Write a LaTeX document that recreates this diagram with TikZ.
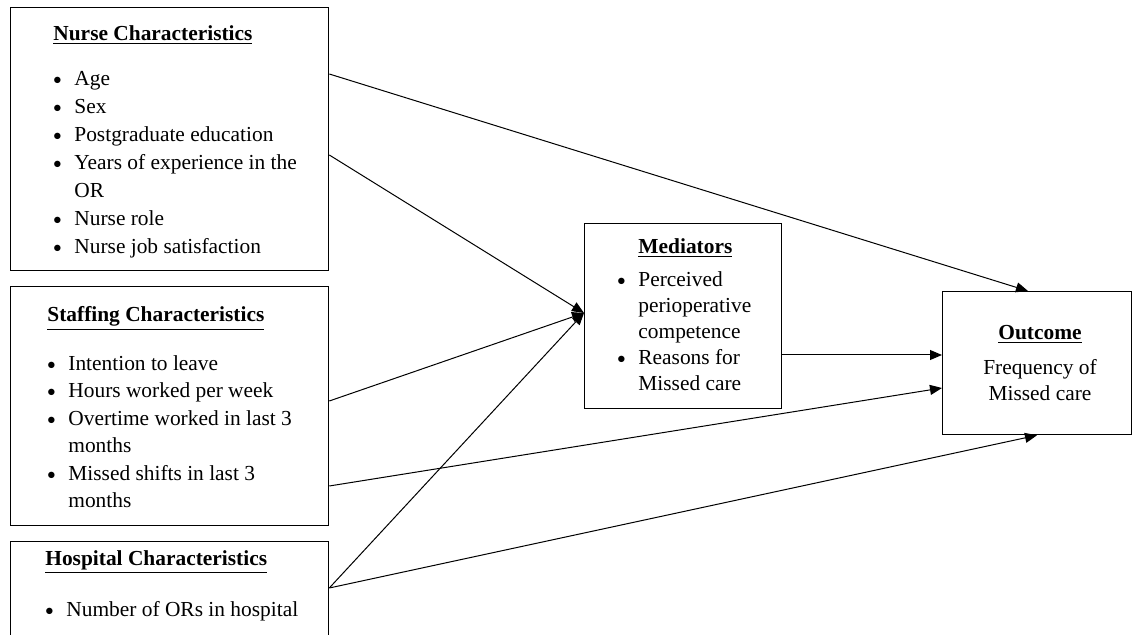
\documentclass[tikz,border=0pt]{standalone}
\usepackage{fontspec}
\setmainfont{Liberation Serif}
\usetikzlibrary{positioning, arrows.meta, calc}

\newcommand{\heading}[1]{\textbf{\underline{#1}}}
\newcommand{\bul}[1]{\noindent\hangindent=10.5pt\hangafter=1\makebox[10.5pt][l]{\raisebox{0.6pt}{\scalebox{0.75}{$\bullet$}}}#1\par}

\begin{document}
\begin{tikzpicture}[
    x=0.5pt, y=-0.5pt,
    box/.style={rectangle, draw, line width=0.65pt, anchor=north west, inner sep=0pt},
    list/.style={anchor=north west, inner sep=0pt, align=flush left, text width=#1},
    line/.style={draw, line width=0.5pt, -{Triangle[length=6pt, width=5pt]}},
    font=\fontsize{10.7}{13.75}\selectfont
]

    \useasboundingbox (0,0) rectangle (1132,635);

    % Boxes
    \node [box, minimum width=159pt, minimum height=131.5pt] (nurse) at (10,7) {};
    \node [box, minimum width=159pt, minimum height=119.5pt] (staff) at (10,286) {};
    \node [box, minimum width=159pt, minimum height=59.5pt] (hosp) at (10,541) {};
    \node [box, minimum width=98.5pt, minimum height=92.5pt] (med) at (584,223) {};
    \node [box, minimum width=94.5pt, minimum height=71.5pt] (outc) at (942,291) {};

    % Texts
    \node [list=140pt, font=\fontsize{10.7}{14}\selectfont] (nursetxt) at (53,25) {\heading{Nurse Characteristics}\par\vspace{8.5pt}
        \bul{Age}\bul{Sex}\bul{Postgraduate education}\bul{Years of experience in the\newline OR}
        \bul{Nurse role}\bul{Nurse job satisfaction}};
    \node [list=140pt] (stafftxt) at (47,306) {\heading{Staffing Characteristics}\par\vspace{10.75pt}
        \bul{Intention to leave}\bul{Hours worked per week}\bul{Overtime worked in last 3\newline months}
        \bul{Missed shifts in last 3\newline months}};
    \node [list=140pt] (hosptxt) at (45,550) {\heading{Hospital Characteristics}\par\vspace{11.75pt}
        \bul{Number of ORs in hospital}};
    \node [list=68pt, font=\fontsize{10.7}{13}\selectfont] (medtxt) at (617,238) {\centerline{\heading{Mediators}}\par\vspace{3.5pt}
        \bul{Perceived\newline perioperative\newline competence}\bul{Reasons for\newline Missed care}};
    \node [anchor=north, inner sep=0pt, align=center, font=\fontsize{10.7}{13}\selectfont] (outctxt) at (1040,325) {\heading{Outcome}\\[4.5pt]
        Frequency of\\Missed care};

    % Ends of the paths
    \coordinate (n1) at ($(nurse.north east)+(0,67)$);
    \coordinate (n2) at ($(nurse.north east)+(0,148)$);
    \coordinate (s1) at ($(staff.north east)+(0,115)$);
    \coordinate (s2) at ($(staff.north east)+(0,200)$);
    \coordinate (h1) at ($(hosp.north east)+(0,47)$);
    \coordinate (medin) at ($(med.north west)+(0,90)$);
    \coordinate (medout) at ($(med.north east)+(0,132)$);
    \coordinate (otop) at ($(outc.north west)+(86,0)$);
    \coordinate (oleft1) at ($(outc.north west)+(0,64)$);
    \coordinate (oleft2) at ($(outc.north west)+(0,97)$);
    \coordinate (obot) at ($(outc.south west)+(95,0)$);

    % Paths to the mediators
    \draw [line] (n2) -- (medin);
    \draw [line] (s1) -- (medin);
    \draw [line] (h1) -- (medin);

    % Paths to the outcome
    \draw [line] (n1) -- (otop);
    \draw [line] (medout) -- (oleft1);
    \draw [line] (s2) -- (oleft2);
    \draw [line] (h1) -- (obot);

\end{tikzpicture}
\end{document}
